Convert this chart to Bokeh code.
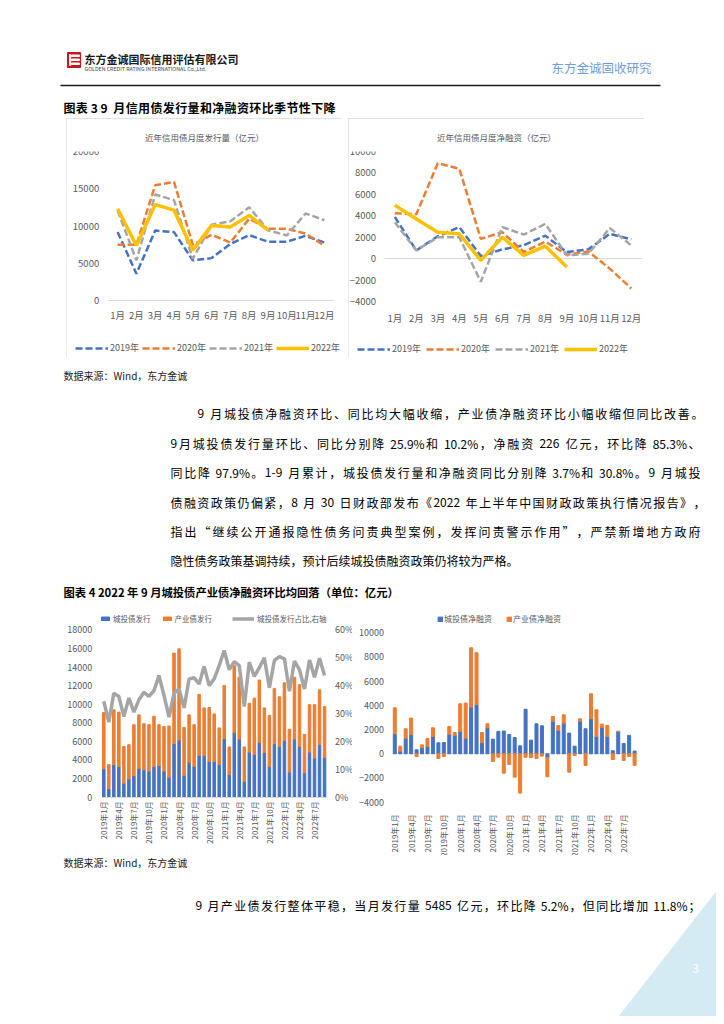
import math
from bokeh.plotting import figure
from bokeh.models import (Range1d, FixedTicker, Legend, LegendItem,
                          LinearAxis, Spacer, ColumnDataSource, PrintfTickFormatter)
from bokeh.layouts import column, row
from bokeh.embed import file_html
from bokeh.resources import INLINE
from bokeh.core.properties import value

FONT = "Noto Sans CJK SC"
AX = "#595959"
BLUE, ORANGE, GRAY, YELLOW = "#4472C4", "#ED7D31", "#A5A5A5", "#FFC000"

# ---------------- data ----------------
months = ["1月", "2月", "3月", "4月", "5月", "6月", "7月", "8月", "9月", "10月", "11月", "12月"]
issue_2019 = [9200, 3600, 9400, 9200, 5400, 5700, 7600, 8800, 7900, 7900, 8700, 7800]
issue_2020 = [7500, 7500, 15500, 15950, 7500, 8850, 7800, 11000, 9650, 9650, 9000, 7400]
issue_2021 = [12100, 5400, 14250, 13500, 5600, 10200, 10650, 12550, 9450, 8750, 11700, 10800]
issue_2022 = [12350, 7400, 12900, 12150, 6750, 10100, 9900, 11450, 9450]

net_2019 = [3900, 770, 2100, 2950, 250, 870, 1250, 2150, 620, 870, 2320, 1800]
net_2020 = [4250, 4150, 8900, 8400, 1850, 2470, 620, 1600, 370, 680, -930, -2780]
net_2021 = [3400, 770, 2000, 2000, -2150, 2950, 2250, 3250, 310, 460, 2850, 1240]
net_2022 = [5000, 3700, 2470, 2320, -150, 2000, 310, 1170, -770]

period_ticks = ["2019年1月", "2019年4月", "2019年7月", "2019年10月", "2020年1月", "2020年4月",
                "2020年7月", "2020年10月", "2021年1月", "2021年4月", "2021年7月", "2021年10月",
                "2022年1月", "2022年4月", "2022年7月"]
city_issue = [3050, 900, 3500, 3300, 1500, 1950, 2300, 3100, 2950, 2800, 3300, 3400,
              2800, 2150, 5750, 6150, 2350, 3750, 3300, 4500, 4500, 3850, 3850, 3500,
              6300, 2450, 6950, 6250, 1700, 4850, 4600, 5900, 4800, 3300, 5750, 5450,
              6100, 2700, 6250, 5450, 2600, 4850, 4200, 5650, 4265]
ind_issue = [6050, 2600, 5900, 5850, 3950, 3700, 5500, 5750, 4950, 5000, 5400, 4400,
             4800, 5500, 9750, 9800, 5150, 5100, 4500, 6550, 5100, 5800, 5100, 3950,
             5700, 2950, 7200, 6650, 3700, 5250, 6050, 6700, 4800, 5500, 5950, 5350,
             6200, 4600, 6650, 6650, 4150, 5100, 5750, 5900, 5485]
city_share = [34.4, 26.9, 37.3, 36.1, 28.9, 35.6, 30.5, 34.9, 37.6, 36.1, 38.2, 43.6,
              36.5, 28.7, 37.3, 38.8, 32.0, 42.4, 42.8, 40.6, 46.9, 40.0, 42.4, 47.2,
              52.6, 45.7, 48.6, 47.2, 32.5, 48.4, 43.3, 46.4, 50.0, 39.2, 49.0, 50.4,
              49.6, 38.0, 48.8, 45.7, 38.8, 49.2, 43.0, 49.8, 43.6]
city_net = [1650, 220, 1290, 1600, 330, 500, 610, 1430, 910, 940, 1600, 1540,
            1850, 1290, 3860, 4080, 910, 2150, 1210, 1850, 1880, 1600, 1340, 660,
            3680, 1130, 2480, 2320, -310, 2690, 1930, 2530, 1710, 630, 2700, 2070,
            2890, 1430, 2180, 1430, 250, 1820, 850, 1520, 226]
ind_net = [2150, 410, 780, 1350, -220, 240, 660, 720, -390, -220, 660, 220,
           2280, 2900, 4900, 4270, 850, 330, -630, -280, -1600, -880, -1930, -3250,
           -290, -320, -390, -190, -1590, 400, 410, 690, -1520, -140, 190, -960,
           2070, 2210, 270, 910, -470, 50, -550, -220, -960]

# ---------------- helpers ----------------
def style_axes(p, fs):
    p.grid.visible = False
    p.outline_line_color = None
    for ax in p.axis:
        ax.major_label_text_font = FONT
        ax.major_label_text_font_size = fs
        ax.major_label_text_color = AX
        ax.major_tick_line_color = None
        ax.minor_tick_line_color = None
        ax.major_tick_out = 0
        ax.minor_tick_out = 0
        ax.axis_line_color = None


def style_legend(lg, gw, gh, fs, standoff, spacing):
    lg.orientation = "horizontal"
    lg.border_line_color = None
    lg.background_fill_alpha = 0
    lg.padding = 0
    lg.margin = 0
    lg.spacing = spacing
    lg.glyph_width = gw
    lg.glyph_height = gh
    lg.label_height = gh
    lg.label_standoff = standoff
    lg.label_text_font = FONT
    lg.label_text_font_size = fs
    lg.label_text_color = AX
    lg.label_text_baseline = "middle"


def set_title(p, text, offset):
    p.title.text = text
    p.title.align = "center"
    p.title.offset = offset
    p.title.standoff = 18
    p.title.text_font = FONT
    p.title.text_font_size = "8.5px"
    p.title.text_font_style = "normal"
    p.title.text_color = AX


def canvas(y0, y1):
    p = figure(width=716, height=y1 - y0, x_range=Range1d(0, 716), y_range=Range1d(y1, y0),
               output_backend="svg", toolbar_location=None, min_border=0,
               x_axis_location=None, y_axis_location=None)
    p.grid.visible = False
    p.outline_line_color = None
    return p


def put(p, x, y, t, size, color="#000000", bold=False, align="left"):
    p.text(x=[x], y=[y], text=[t], text_font=value(FONT), text_font_size=size,
           text_color=color, text_baseline="middle", text_align=align,
           text_font_style="bold" if bold else "normal")


def is_wide(ch):
    return ord(ch) > 0x2E80 or ch in "“”‘’"


LATIN_EM = {" ": 0.224, ".": 0.268, "%": 0.87, "-": 0.33, "W": 0.87, "i": 0.25,
            "n": 0.55, "d": 0.56, ",": 0.25}


def tokenize(line):
    toks, buf = [], ""

    def flush(b):
        if not b:
            return
        lead = len(b) - len(b.lstrip(" "))
        trail = len(b) - len(b.rstrip(" "))
        core = b.strip(" ")
        if lead:
            toks.append(("", lead * LATIN_EM[" "]))
        if core:
            toks.append((core, sum(LATIN_EM.get(c, 0.554) for c in core)))
        if trail and core:
            toks.append(("", trail * LATIN_EM[" "]))

    for ch in line:
        if is_wide(ch):
            flush(buf)
            buf = ""
            toks.append((ch, 1.0))
        else:
            buf += ch
    flush(buf)
    return toks


def put_line(p, x0, y, line, fs, x1=None, color="#000000", bold=False):
    toks = tokenize(line)
    total = sum(w for _, w in toks) * fs
    gap = 0.0
    if x1 is not None and len(toks) > 1:
        gap = (x1 - x0 - total) / (len(toks) - 1)
    cx, xs_, ts_ = x0, [], []
    for t, w in toks:
        if t:
            xs_.append(cx + w * fs / 2)
            ts_.append(t)
        cx += w * fs + gap
    p.text(x=xs_, y=[y] * len(xs_), text=ts_, text_font=value(FONT), text_font_size=f"{fs}px",
           text_color=color, text_baseline="middle", text_align="center",
           text_font_style="bold" if bold else "normal")


BOX = {"outline": "1px solid #D9D9D9", "outline-offset": "-1px"}
xs = list(range(1, 13))

# ---------------- chart 1 ----------------
p1 = figure(width=276, height=240, x_range=Range1d(-1.718, 12.963), y_range=Range1d(-7800, 20040),
            output_backend="svg", toolbar_location=None,
            min_border_left=0, min_border_right=0, min_border_top=33, min_border_bottom=0)
r19 = p1.line(xs, issue_2019, color=BLUE, line_width=2.5, line_dash="7 3")
r20 = p1.line(xs, issue_2020, color=ORANGE, line_width=2.5, line_dash="7 3")
r21 = p1.line(xs, issue_2021, color=GRAY, line_width=2.5, line_dash="7 3")
r22 = p1.line(xs[:len(issue_2022)], issue_2022, color=YELLOW, line_width=3.5)
style_axes(p1, "9.5px")
p1.xaxis.fixed_location = 0
p1.xaxis.bounds = (0.5, 12.5)
p1.xaxis.ticker = FixedTicker(ticks=xs)
p1.xaxis.major_label_overrides = {i + 1: m for i, m in enumerate(months)}
p1.xaxis.axis_line_color = "#D9D9D9"
p1.xaxis.major_label_standoff = 7
p1.yaxis.fixed_location = 0.5
p1.yaxis.bounds = (0, 20000)
p1.yaxis.ticker = FixedTicker(ticks=[0, 5000, 10000, 15000, 20000])
p1.yaxis.major_label_standoff = 9
set_title(p1, "近年信用债月度发行量（亿元）", -17)
lg1 = Legend(items=[LegendItem(label="2019年", renderers=[r19]),
                    LegendItem(label="2020年", renderers=[r20]),
                    LegendItem(label="2021年", renderers=[r21]),
                    LegendItem(label="2022年", renderers=[r22])], location=(9, 4))
style_legend(lg1, 33, 10, "9px", 2, 3)
p1.add_layout(lg1, "center")
p1.styles = BOX

# ---------------- chart 2 ----------------
p2 = figure(width=296, height=240, x_range=Range1d(-1.153, 12.614), y_range=Range1d(-9312, 10000),
            output_backend="svg", toolbar_location=None,
            min_border_left=0, min_border_right=0, min_border_top=32, min_border_bottom=0)
zero2 = LinearAxis(fixed_location=0, bounds=(0.5, 12.5), ticker=FixedTicker(ticks=[]))
p2.add_layout(zero2, "below")
n19 = p2.line(xs, net_2019, color=BLUE, line_width=2.5, line_dash="7 3")
n20 = p2.line(xs, net_2020, color=ORANGE, line_width=2.5, line_dash="7 3")
n21 = p2.line(xs, net_2021, color=GRAY, line_width=2.5, line_dash="7 3")
n22 = p2.line(xs[:len(net_2022)], net_2022, color=YELLOW, line_width=3.5)
style_axes(p2, "9.5px")
zero2.axis_line_color = "#D9D9D9"
zero2.level = "underlay"
p2.xaxis[0].fixed_location = -4000
p2.xaxis[0].ticker = FixedTicker(ticks=xs)
p2.xaxis[0].major_label_overrides = {i + 1: m for i, m in enumerate(months)}
p2.xaxis[0].major_label_standoff = 9
p2.yaxis.fixed_location = 0.5
p2.yaxis.bounds = (-4000, 10000)
p2.yaxis.ticker = FixedTicker(ticks=list(range(-4000, 10001, 2000)))
p2.yaxis.major_label_standoff = 8
set_title(p2, "近年信用债月度净融资（亿元）", -20)
lg2 = Legend(items=[LegendItem(label="2019年", renderers=[n19]),
                    LegendItem(label="2020年", renderers=[n20]),
                    LegendItem(label="2021年", renderers=[n21]),
                    LegendItem(label="2022年", renderers=[n22])], location=(9, 3))
style_legend(lg2, 33, 10, "9px", 2, 5)
p2.add_layout(lg2, "center")
p2.styles = BOX

# ---------------- chart 3 ----------------
idx = list(range(len(city_issue)))
tick_pos = [i * 3 for i in range(len(period_ticks))]
p3 = figure(width=294, height=250, x_range=Range1d(-9.03, 49.57), y_range=Range1d(-6269, 20613),
            output_backend="svg", toolbar_location=None, min_border=0)
p3.extra_y_ranges = {"pct": Range1d(-20.9, 68.71)}
src3 = ColumnDataSource(dict(x=idx, city=city_issue, ind=ind_issue))
bars3 = p3.vbar_stack(["city", "ind"], x="x", width=0.5, color=[BLUE, ORANGE], source=src3)
ln3 = p3.line(idx, city_share, y_range_name="pct", color=GRAY, line_width=3.5)
ax_r = LinearAxis(y_range_name="pct", ticker=FixedTicker(ticks=list(range(0, 61, 10))),
                  formatter=PrintfTickFormatter(format="%d%%"), fixed_location=44.5, bounds=(0, 60))
p3.add_layout(ax_r, "right")
style_axes(p3, "9px")
p3.xaxis.fixed_location = 0
p3.xaxis.bounds = (-0.5, 44.5)
p3.xaxis.ticker = FixedTicker(ticks=tick_pos)
p3.xaxis.major_label_overrides = {t: s for t, s in zip(tick_pos, period_ticks)}
p3.xaxis.major_label_orientation = math.pi / 2
p3.xaxis.major_label_standoff = 4
p3.xaxis.major_label_text_font_size = "8px"
p3.xaxis.axis_line_color = "#D9D9D9"
p3.yaxis[0].fixed_location = -0.5
p3.yaxis[0].bounds = (0, 18000)
p3.yaxis[0].ticker = FixedTicker(ticks=list(range(0, 18001, 2000)))
p3.yaxis[0].major_label_standoff = 9
ax_r.major_label_standoff = 8
lg3a = Legend(items=[LegendItem(label="城投债发行", renderers=[bars3[0]]),
                     LegendItem(label="产业债发行", renderers=[bars3[1]])], location=(42, 231))
style_legend(lg3a, 10, 5, "7.5px", 3, 11)
lg3b = Legend(items=[LegendItem(label="城投债发行占比,右轴", renderers=[ln3])], location=(174, 231))
style_legend(lg3b, 22, 5, "7.5px", 3, 0)
p3.add_layout(lg3a, "center")
p3.add_layout(lg3b, "center")

# ---------------- chart 4 ----------------
c_bot = [min(v, 0) for v in city_net]
c_top = [max(v, 0) for v in city_net]
i_bot, i_top = [], []
for c, v in zip(city_net, ind_net):
    if v >= 0:
        b = max(c, 0)
        i_bot.append(b)
        i_top.append(b + v)
    else:
        t = min(c, 0)
        i_top.append(t)
        i_bot.append(t + v)
p4 = figure(width=298, height=250, x_range=Range1d(-7.76, 46.92), y_range=Range1d(-8405, 12256),
            output_backend="svg", toolbar_location=None, min_border=0)
zero4 = LinearAxis(fixed_location=0, bounds=(-0.5, 44.5), ticker=FixedTicker(ticks=[]))
p4.add_layout(zero4, "below")
rb4 = p4.vbar(x=idx, width=0.55, bottom=c_bot, top=c_top, color=BLUE)
ro4 = p4.vbar(x=idx, width=0.55, bottom=i_bot, top=i_top, color=ORANGE)
style_axes(p4, "9px")
zero4.axis_line_color = "#D9D9D9"
zero4.level = "underlay"
p4.xaxis[0].fixed_location = -4000
p4.xaxis[0].ticker = FixedTicker(ticks=tick_pos)
p4.xaxis[0].major_label_overrides = {t: s for t, s in zip(tick_pos, period_ticks)}
p4.xaxis[0].major_label_orientation = math.pi / 2
p4.xaxis[0].major_label_standoff = 12
p4.xaxis[0].major_label_text_font_size = "8px"
p4.yaxis.fixed_location = -0.5
p4.yaxis.bounds = (-4000, 10000)
p4.yaxis.ticker = FixedTicker(ticks=list(range(-4000, 10001, 2000)))
p4.yaxis.major_label_standoff = 8
lg4 = Legend(items=[LegendItem(label="城投债净融资", renderers=[rb4]),
                    LegendItem(label="产业债净融资", renderers=[ro4])], location=(85, 231))
style_legend(lg4, 6, 6, "8px", 1, 14)
p4.add_layout(lg4, "center")

# ---------------- page text ----------------
head = canvas(0, 118)
head.quad(left=[67], right=[80], top=[52], bottom=[67], color="#C8161D")
head.quad(left=[71, 71, 71], right=[79, 79, 79], top=[54.5, 58.5, 62.5], bottom=[56, 60, 64], color="#FFFFFF")
head.quad(left=[69], right=[70.2], top=[54], bottom=[65], color="#FFFFFF")
put(head, 84, 58, "东方金诚国际信用评估有限公司", "11px", "#1a1a1a", bold=True)
put(head, 84, 68.5, "GOLDEN CREDIT RATING INTERNATIONAL Co.,Ltd.", "5.3px", "#444444")
put(head, 551, 67, "东方金诚固收研究", "12.5px", "#6D9EDB")
head.line([60, 660], [85, 85], color="#1a1a1a", line_width=1.3)
put_line(head, 63, 107, "图表 3  9 月信用债发行量和净融资环比季节性下降", 12, 335, bold=True)

body = canvas(360, 605)
put(body, 63, 375, "数据来源：Wind，东方金诚", "10px", "#222222")
para = [
    (197, 413, 703, "9 月城投债净融资环比、同比均大幅收缩，产业债净融资环比小幅收缩但同比改善。"),
    (170, 443, 700, "9月城投债发行量环比、同比分别降 25.9%和 10.2%，净融资 226 亿元，环比降 85.3%、"),
    (170, 472, 700, "同比降 97.9%。1-9 月累计，城投债发行量和净融资同比分别降 3.7%和 30.8%。9 月城投"),
    (170, 502, 705, "债融资政策仍偏紧，8 月 30 日财政部发布《2022 年上半年中国财政政策执行情况报告》，"),
    (170, 531, 700, "指出“继续公开通报隐性债务问责典型案例，发挥问责警示作用”，严禁新增地方政府"),
    (170, 560, None, "隐性债务政策基调持续，预计后续城投债融资政策仍将较为严格。"),
]
for x0, y, x1, t in para:
    put_line(body, x0, y, t, 12, x1)
put(body, 63, 591, "图表 4  2022 年 9 月城投债产业债净融资环比均回落（单位：亿元）", "11.3px", "#000000", bold=True)

foot = canvas(855, 1016)
foot.patch([724, 724, 607], [880, 1030, 1030], color="#D5EBF3", line_color=None)
put(foot, 63, 862, "数据来源：Wind，东方金诚", "10px", "#222222")
put_line(foot, 195, 905, "9 月产业债发行整体平稳，当月发行量 5485 亿元，环比降 5.2%，但同比增加 11.8%；", 12, 700)
put(foot, 695, 968, "3", "12px", "#FFFFFF", align="center")

layout = column(
    head,
    row(Spacer(width=66, height=242), p1, Spacer(width=6, height=242), p2, Spacer(width=72, height=242)),
    body,
    row(Spacer(width=58, height=250), p3, p4, Spacer(width=66, height=250)),
    foot,
)

open("out.html", "w").write(file_html(layout, INLINE))
